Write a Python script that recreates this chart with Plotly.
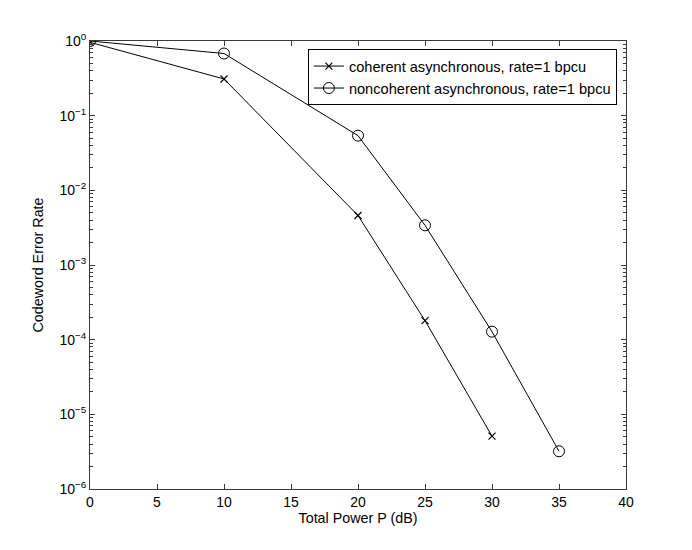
import plotly.graph_objects as go

power_db = [0, 10, 20, 25, 30]
coherent = [0.96, 0.31, 4.6e-3, 1.8e-4, 5.1e-6]
power_db_nc = [0, 10, 20, 25, 30, 35]
noncoherent = [1.0, 0.68, 0.054, 3.4e-3, 1.28e-4, 3.2e-6]

names = ["coherent asynchronous, rate=1 bpcu", "noncoherent asynchronous, rate=1 bpcu"]
x_ticks = [0, 5, 10, 15, 20, 25, 30, 35, 40]
y_ticks = [1e-6, 1e-5, 1e-4, 1e-3, 1e-2, 1e-1, 1e0]
y_ticktext = ["10<sup>−6</sup>", "10<sup>−5</sup>", "10<sup>−4</sup>", "10<sup>−3</sup>",
              "10<sup>−2</sup>", "10<sup>−1</sup>", "10<sup>0</sup>"]

minor_vals = [m * 10.0 ** k for k in range(-6, 0) for m in range(2, 10)]

fig = go.Figure()
fig.add_trace(go.Scatter(
    x=power_db, y=coherent, name=names[0], mode="lines+markers",
    line=dict(color="black", width=1),
    marker=dict(symbol="x-thin-open", size=7, line=dict(color="black", width=1.2)),
))
fig.add_trace(go.Scatter(
    x=power_db_nc, y=noncoherent, name=names[1], mode="lines+markers",
    line=dict(color="black", width=1),
    marker=dict(symbol="circle-open", size=11, color="black", line=dict(color="black", width=1)),
))

axis_color = "#3a3a3a"
fig.update_layout(
    width=692, height=550,
    margin=dict(l=82, r=74, t=33, b=69, autoexpand=False),
    paper_bgcolor="white", plot_bgcolor="white",
    font=dict(family="Liberation Sans, Arial, sans-serif", size=14, color="black"),
    showlegend=True,
    legend=dict(x=0.983, y=0.982, xanchor="right", yanchor="top",
                bordercolor="black", borderwidth=1, bgcolor="white",
                font=dict(size=14.6), tracegroupgap=0),
)
fig.update_xaxes(
    range=[0, 40], tickvals=x_ticks, ticks="inside", ticklen=5, tickcolor=axis_color,
    showline=True, linecolor=axis_color, linewidth=1, mirror="allticks",
    showgrid=False, zeroline=False, automargin=False,
    title=dict(text="Total Power P (dB)", standoff=2, font=dict(size=14.3)),
    tickfont=dict(size=14),
)
fig.update_yaxes(
    type="log", range=[-6, 0], tickvals=y_ticks, ticktext=y_ticktext,
    ticks="inside", ticklen=5, tickcolor=axis_color,
    showline=True, linecolor=axis_color, linewidth=1, mirror="allticks",
    showgrid=False, zeroline=False, automargin=False,
    minor=dict(tickvals=minor_vals, ticks="inside", ticklen=3, tickcolor=axis_color, showgrid=False),
    title=dict(text="Codeword Error Rate", standoff=12, font=dict(size=14.3)),
    tickfont=dict(size=14),
)

fig.write_html("out.html")
